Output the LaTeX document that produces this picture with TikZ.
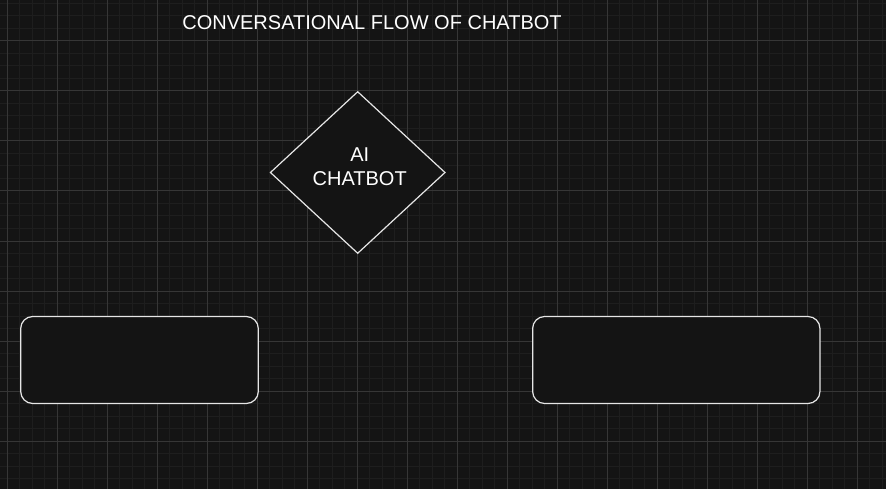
\documentclass[tikz,border=0pt]{standalone}
\usepackage{xcolor}
\usepackage{fontspec}
\setmainfont{Liberation Sans}
\usepackage{tikz}
\usetikzlibrary{shapes.geometric}

\definecolor{canvasbg}{HTML}{141414}
\definecolor{gridminor}{HTML}{1E1E1E}
\definecolor{gridmajor}{HTML}{363636}
\definecolor{shapeline}{HTML}{E6E6E6}

\tikzset{
    minorline/.style={draw=gridminor, line width=1pt},
    majorline/.style={draw=gridmajor, line width=1pt},
    botdiamond/.style={draw=shapeline, fill=canvasbg, diamond, line width=1.2pt, inner sep=0pt,
        minimum width=175pt, minimum height=162pt},
    bottext/.style={text=white, align=center, inner sep=0pt,
        font=\fontsize{20}{24}\selectfont},
    flowbox/.style={draw=shapeline, fill=canvasbg, rounded corners=12pt, line width=1.2pt,
        minimum height=87pt},
    titletext/.style={text=white, font=\fontsize{20}{24}\selectfont, inner sep=0pt}
}

\begin{document}
\begin{tikzpicture}[x=1pt, y=-1pt]
        % background and grid
        \fill[canvasbg] (0,0) rectangle (886,489);
        \useasboundingbox (0,0) rectangle (886,489);
        \foreach \gx in {7,19.5,...,884} \draw[minorline] (\gx,0) -- (\gx,489);
        \foreach \gy in {3.5,16,...,489} \draw[minorline] (0,\gy) -- (886,\gy);
        \foreach \gx in {7,57,...,857} \draw[majorline] (\gx,0) -- (\gx,489);
        \foreach \gy in {41,91,...,441} \draw[majorline] (0,\gy) -- (886,\gy);

        % title
        \node[titletext, anchor=base] (title) at (372,30) {CONVERSATIONAL FLOW OF CHATBOT};

        % chatbot and the two boxes
        \node[botdiamond] (chatbot) at (357.7,172.5) {};
        \node[bottext] (chatbotlabel) at ([xshift=2pt, yshift=6pt]chatbot.center) {AI\\CHATBOT};
        \node[flowbox, minimum width=237.6pt] (leftbox) at (139.5,360) {};
        \node[flowbox, minimum width=287.3pt] (rightbox) at (676.3,360) {};
    \end{tikzpicture}
\end{document}
